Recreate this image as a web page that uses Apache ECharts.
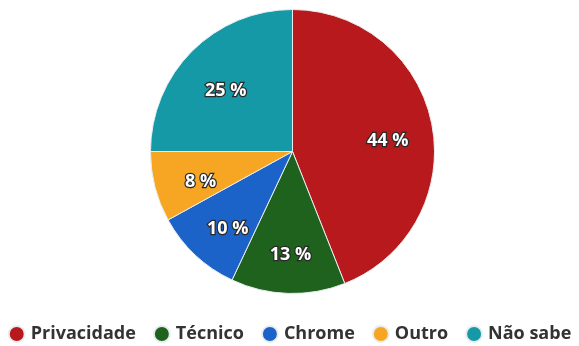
<!DOCTYPE html>
<html><head><meta charset="utf-8">
<script src="https://cdn.jsdelivr.net/npm/echarts@6/dist/echarts.min.js"></script>
<style>html,body{margin:0;padding:0;background:#fff}#c{width:579px;height:346px}</style>
</head><body><div id="c"></div>
<script>
const categories = ['Privacidade', 'Técnico', 'Chrome', 'Outro', 'Não sabe'];
const values = [44, 13, 10, 8, 25];
const colors = ['#B8191D', '#1E621E', '#1C63C9', '#F6A623', '#1599A6'];

const chart = echarts.init(document.getElementById('c'));
const data = categories.map((n, i) => ({ name: n, value: values[i], itemStyle: { color: colors[i] } }));
chart.setOption({
  animation: false,
  legend: {
    top: 325, left: 'center', width: 579, padding: 0, icon: 'circle', itemWidth: 16, itemHeight: 16, itemGap: 17,
    textStyle: { fontFamily: 'Open Sans', fontWeight: 'bold', fontSize: 18, lineHeight: 18, color: '#333', padding: [0, 0, 0, 1] },
    data: categories
  },
  series: [
    {
      type: 'pie', center: [292.5, 151.5], radius: 142, startAngle: 90, clockwise: true,
      itemStyle: { borderColor: '#e8eef0', borderWidth: 1 },
      label: { show: false }, labelLine: { show: false }, data: data
    },
    {
      type: 'pie', center: [292.5, 151.5], radius: [44, 142], startAngle: 90, clockwise: true,
      silent: true, legendHoverLink: false,
      itemStyle: { color: 'rgba(0,0,0,0)', borderWidth: 0 },
      label: {
        show: true, position: 'inside', formatter: '{c} %', offset: [1, 7],
        fontFamily: 'Open Sans', fontWeight: 'bold', fontSize: 18, color: '#fff',
        textBorderColor: '#2a2a2a', textBorderWidth: 2.5
      },
      labelLine: { show: false },
      data: categories.map((n, i) => ({ name: n, value: values[i], itemStyle: { color: 'rgba(0,0,0,0)' } }))
    }
  ]
});
</script></body></html>
